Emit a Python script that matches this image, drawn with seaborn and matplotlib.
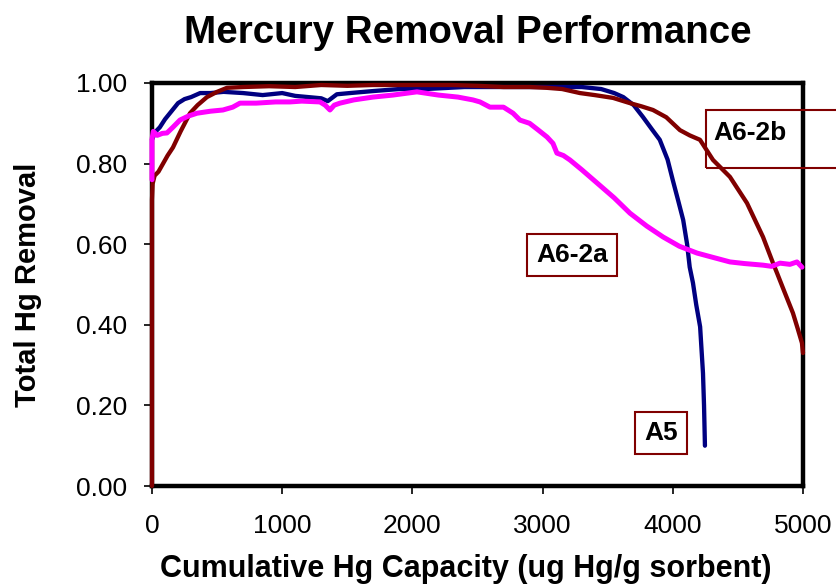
import numpy as np
import pandas as pd
import seaborn as sns
import matplotlib.pyplot as plt
from matplotlib.patches import Rectangle

# Cumulative Hg capacity (ug Hg/g sorbent) vs total Hg removal
a5_x = [0, 30, 60, 100, 150, 200, 250, 300, 370, 450, 550, 700, 850, 1000, 1100, 1200,
        1300, 1350, 1420, 1520, 1700, 1900, 2100, 2400, 2700, 3000, 3300, 3450, 3550, 3620,
        3700, 3770, 3840, 3900, 3960, 4000, 4040, 4080, 4110, 4130, 4155, 4180, 4210, 4232,
        4240, 4247]
a5_y = [0.86, 0.88, 0.89, 0.91, 0.93, 0.95, 0.96, 0.965, 0.975, 0.975, 0.978, 0.975, 0.97,
        0.975, 0.968, 0.965, 0.962, 0.955, 0.972, 0.975, 0.98, 0.985, 0.985, 0.99, 0.99, 0.99,
        0.99, 0.985, 0.975, 0.965, 0.945, 0.916, 0.885, 0.859, 0.81, 0.759, 0.71, 0.66, 0.60,
        0.543, 0.504, 0.45, 0.395, 0.28, 0.20, 0.10]

a62b_x = [0, 0, 5, 20, 50, 85, 120, 161, 220, 292, 350, 422, 500, 576, 700, 900, 1100, 1300,
          1500, 1700, 1900, 2100, 2300, 2500, 2700, 2900, 3034, 3150, 3287, 3400, 3541, 3671,
          3760, 3848, 3950, 4055, 4130, 4209, 4309, 4439, 4570, 4693, 4770, 4800, 4860, 4923,
          4960, 4992, 5000]
a62b_y = [0.0, 0.71, 0.75, 0.77, 0.78, 0.80, 0.82, 0.84, 0.88, 0.925, 0.945, 0.965, 0.978,
          0.988, 0.99, 0.992, 0.99, 0.995, 0.993, 0.995, 0.995, 0.995, 0.995, 0.993, 0.99, 0.99,
          0.988, 0.985, 0.975, 0.97, 0.963, 0.95, 0.942, 0.933, 0.915, 0.883, 0.87, 0.859,
          0.809, 0.767, 0.702, 0.618, 0.553, 0.529, 0.48, 0.429, 0.39, 0.355, 0.33]

a62a_x = [0, 0, 10, 40, 80, 115, 160, 215, 280, 346, 450, 545, 620, 676, 800, 950, 1060, 1150,
          1290, 1330, 1367, 1400, 1444, 1550, 1697, 1850, 2035, 2200, 2350, 2465, 2519, 2596,
          2700, 2773, 2826, 2900, 2960, 3034, 3080, 3110, 3160, 3210, 3300, 3418, 3550, 3671,
          3800, 3925, 4050, 4186, 4300, 4439, 4550, 4693, 4760, 4823, 4900, 4954, 4992]
a62a_y = [0.76, 0.86, 0.88, 0.87, 0.875, 0.876, 0.89, 0.908, 0.918, 0.925, 0.93, 0.933, 0.94,
          0.95, 0.95, 0.953, 0.953, 0.955, 0.953, 0.945, 0.933, 0.945, 0.95, 0.958, 0.965, 0.97,
          0.978, 0.97, 0.965, 0.958, 0.953, 0.94, 0.94, 0.925, 0.908, 0.9, 0.885, 0.866, 0.85,
          0.826, 0.82, 0.809, 0.785, 0.752, 0.715, 0.677, 0.645, 0.618, 0.595, 0.578, 0.568,
          0.556, 0.552, 0.548, 0.545, 0.553, 0.55, 0.556, 0.543]

x_ticks = [0, 1000, 2000, 3000, 4000, 5000]
y_ticks = [0.0, 0.2, 0.4, 0.6, 0.8, 1.0]

sns.set_style("white")
plt.rcParams['font.family'] = ['Liberation Sans', 'DejaVu Sans']
plt.rcParams['text.color'] = 'black'
plt.rcParams['axes.labelcolor'] = 'black'

fig = plt.figure(figsize=(8.36, 5.84), dpi=100)
ax = fig.add_axes([0.1818, 0.1678, 0.7787, 0.6901])

series = [(a5_x, a5_y, '#000080', 3.1),
          (a62b_x, a62b_y, '#800000', 3.1),
          (a62a_x, a62a_y, '#FF00FF', 3.6)]
for xs, ys, col, lw in series:
    sns.lineplot(x=xs, y=ys, ax=ax, color=col, linewidth=lw, sort=False,
                 estimator=None, zorder=3, clip_on=False)

ax.set_xlim(0, 5000)
ax.set_ylim(0, 1.0)
ax.set_xticks(x_ticks)
ax.set_yticks(y_ticks)
ax.set_yticklabels([f"{v:.2f}" for v in y_ticks])
ax.tick_params(axis='both', direction='out', length=6, width=1.2, colors='black',
               labelcolor='black', labelsize=19, left=True, bottom=True)
ax.tick_params(axis='x', pad=14)
ax.tick_params(axis='y', pad=12)
for s in ax.spines.values():
    s.set_color('black')
    s.set_linewidth(3.2)

ax.set_title('Mercury Removal Performance', fontsize=27.7, fontweight='bold', pad=29,
             color='black', x=0.485)
ax.set_xlabel('Cumulative Hg Capacity (ug Hg/g sorbent)', fontsize=22, fontweight='bold',
              labelpad=12)
ax.xaxis.label.set_x(0.482)
ax.set_ylabel('Total Hg Removal', fontsize=21, fontweight='bold', labelpad=24)

box = dict(boxstyle='square,pad=0.35', fc='none', ec='#800000', lw=1.5)
ax.text(3226, 0.573, 'A6-2a', fontsize=19, fontweight='bold', ha='center', va='center',
        bbox=box)
ax.text(3909, 0.131, 'A5', fontsize=19, fontweight='bold', ha='center', va='center',
        bbox=box)
ax.text(4309, 0.876, 'A6-2b', fontsize=19, fontweight='bold', ha='left', va='center')
ax.add_patch(Rectangle((4255, 0.789), 1300, 0.144, fill=False, ec='#800000', lw=1.5,
                       clip_on=False, zorder=4))

fig.savefig('out.png', dpi=100)
